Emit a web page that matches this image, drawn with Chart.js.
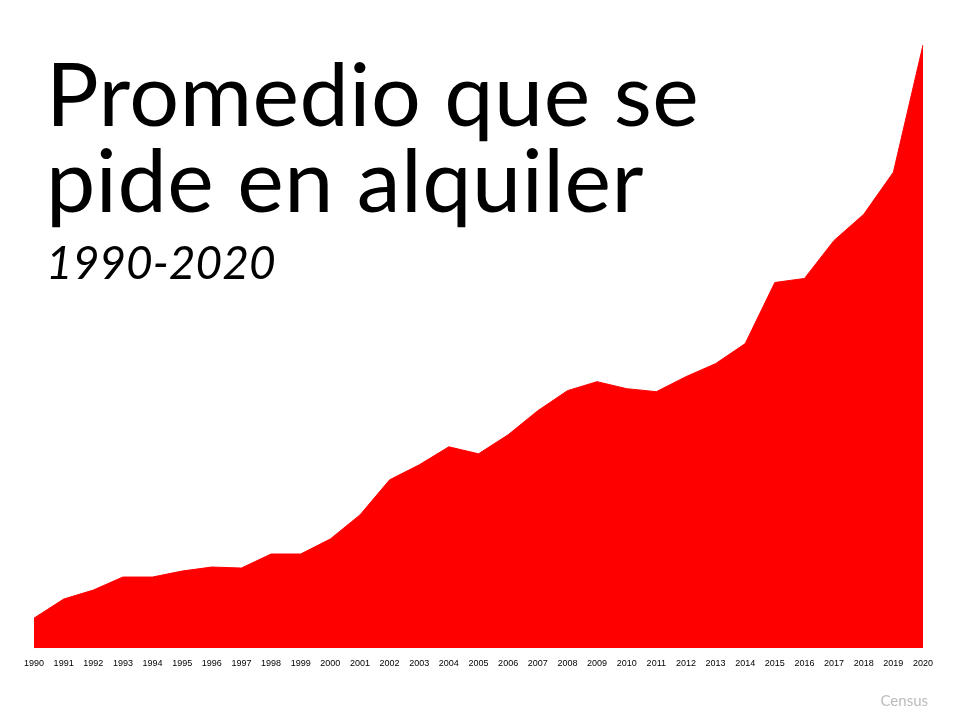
<!DOCTYPE html>
<html><head><meta charset="utf-8">
<script src="https://cdn.jsdelivr.net/npm/chart.js@4"></script>
<style>
body{margin:0;width:960px;height:720px;background:#fff;position:relative;overflow:hidden;font-family:Lato,"Open Sans",sans-serif}
#c{position:absolute;left:0;top:0}
.t{position:absolute;left:46px;color:#000;line-height:1}
</style></head><body>
<canvas id="c" width="960" height="720"></canvas>
<div class="t" style="top:49px;font-size:88px;line-height:86px;letter-spacing:0.5px">Promedio que se<br>pide en alquiler</div>
<div class="t" style="top:239px;font-size:46px;font-style:italic">1990-2020</div>
<div style="position:absolute;right:32px;top:691px;font-size:15px;color:#bbb">Census</div>
<script>
const years=[];for(let y=1990;y<=2020;y++)years.push(String(y));
const rentIndex=[30,49,58,71,71,77,81,80,94,94,109,133,168,183,201,194,213,237,257,266,259,256,271,284,304,365,369,407,433,475,602];
new Chart(document.getElementById('c'),{type:'line',
data:{labels:years,datasets:[{data:rentIndex,fill:'origin',backgroundColor:'#ff0000',borderColor:'#ff0000',borderWidth:1,pointRadius:0,tension:0}]},
options:{responsive:false,animation:false,plugins:{legend:{display:false},tooltip:{enabled:false}},
layout:{padding:{left:34,right:37,top:45,bottom:49}},
scales:{x:{offset:false,grid:{display:false},border:{display:false},ticks:{font:{size:9,family:'Liberation Sans'},color:'#000',maxRotation:0,autoSkip:false,padding:2}},
y:{display:false,min:0,max:602}}}});
</script></body></html>
